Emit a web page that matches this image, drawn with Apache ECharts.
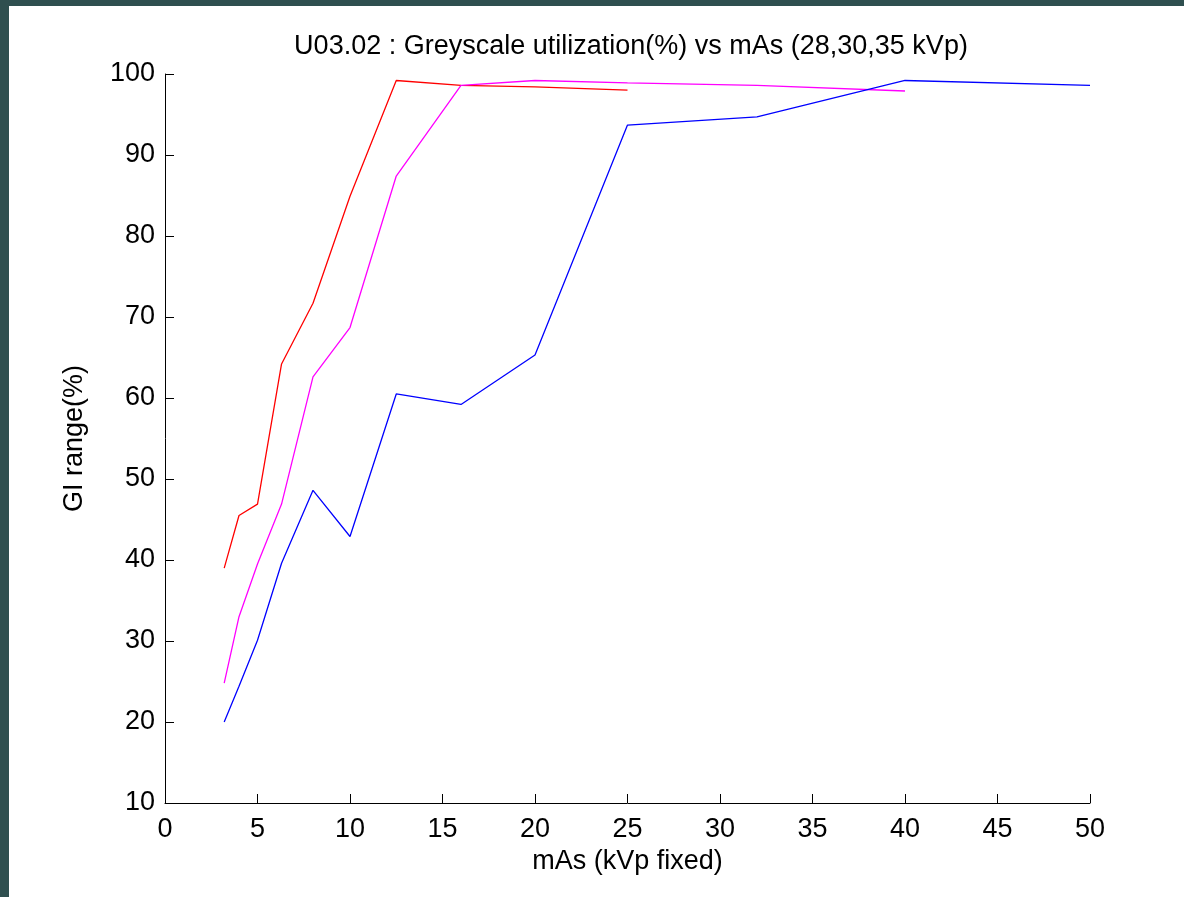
<!DOCTYPE html>
<html>
<head>
<meta charset="utf-8">
<script src="https://cdn.jsdelivr.net/npm/echarts@6/dist/echarts.min.js"></script>
<style>
html,body{margin:0;padding:0;background:#2F4F4F;}
#wrap{position:absolute;left:9px;top:6px;width:1175px;height:891px;background:#fff;}
#chart{position:absolute;left:-9px;top:-6px;width:1184px;height:897px;}
</style>
</head>
<body>
<div id="wrap"><div id="chart"></div></div>
<script>
const titleText = 'U03.02 : Greyscale utilization(%) vs mAs (28,30,35 kVp)';
const xName = 'mAs (kVp fixed)';
const yName = 'GI range(%)';

const mAsRed = [3.2, 4, 5, 6.3, 8, 10, 12.5, 16, 20, 25];
const giRed = [39.0, 45.5, 46.9, 64.2, 71.7, 84.9, 99.2, 98.6, 98.4, 98.0];

const mAsMagenta = [3.2, 4, 5, 6.3, 8, 10, 12.5, 16, 20, 25, 32, 40];
const giMagenta = [24.8, 33.0, 39.5, 46.9, 62.6, 68.7, 87.4, 98.6, 99.2, 98.9, 98.6, 97.9];

const mAsBlue = [3.2, 4, 5, 6.3, 8, 10, 12.5, 16, 20, 25, 32, 40, 50];
const giBlue = [20.0, 24.4, 30.1, 39.6, 48.6, 42.9, 60.5, 59.2, 65.3, 93.7, 94.7, 99.2, 98.6];

function pairs(xs, ys){ return xs.map((x,i)=>[x, ys[i]]); }

const font = '"Liberation Sans", Arial, Helvetica, sans-serif';
const fs = 27;
const chart = echarts.init(document.getElementById('chart'), null, {renderer:'canvas'});
const mkSeries = (name, xs, ys, color) => ({
  name, type:'line', data:pairs(xs, ys), showSymbol:false, symbol:'none',
  lineStyle:{color, width:1.3}, itemStyle:{color}, animation:false
});
chart.setOption({
  backgroundColor:'transparent',
  animation:false,
  title:{text:titleText, left:626, top:28, textAlign:'center',
    textStyle:{fontFamily:font, fontSize:fs, fontWeight:'normal', color:'#000'}},
  grid:{left:165, right:94, top:74, bottom:94, containLabel:false},
  xAxis:{type:'value', min:0, max:50, interval:5,
    name:xName, nameLocation:'middle', nameGap:44,
    nameTextStyle:{fontFamily:font, fontSize:fs, color:'#000'},
    axisLine:{show:true, onZero:false, lineStyle:{color:'#000', width:1}},
    axisTick:{show:true, inside:true, length:9, lineStyle:{color:'#000'}},
    axisLabel:{fontFamily:font, fontSize:fs, color:'#000', margin:13},
    splitLine:{show:false}},
  yAxis:{type:'value', min:10, max:100, interval:10,
    name:yName, nameLocation:'middle', nameGap:77,
    nameTextStyle:{fontFamily:font, fontSize:fs, color:'#000'},
    axisLine:{show:true, onZero:false, lineStyle:{color:'#000', width:1}},
    axisTick:{show:true, inside:true, length:9, lineStyle:{color:'#000'}},
    axisLabel:{fontFamily:font, fontSize:fs, color:'#000', margin:10},
    splitLine:{show:false}},
  series:[
    mkSeries('35 kVp', mAsRed, giRed, '#FF0000'),
    mkSeries('30 kVp', mAsMagenta, giMagenta, '#FF00FF'),
    mkSeries('28 kVp', mAsBlue, giBlue, '#0000FF')
  ]
});
</script>
</body>
</html>
